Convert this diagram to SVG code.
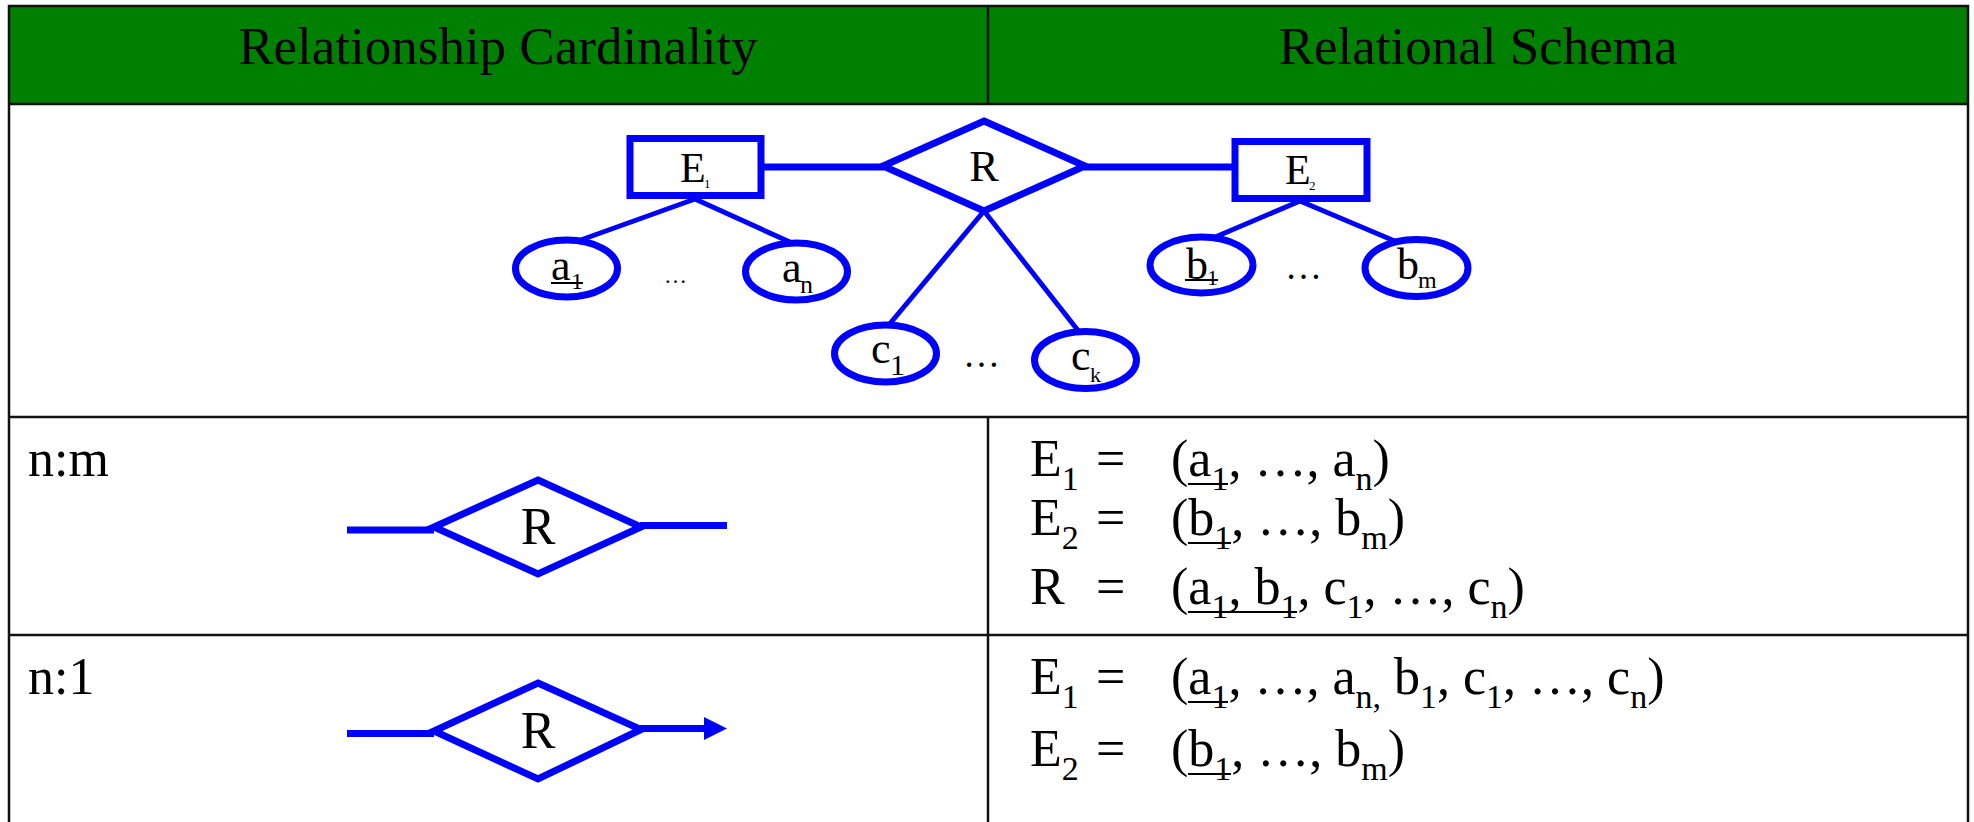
<svg xmlns="http://www.w3.org/2000/svg" width="1974" height="822" viewBox="0 0 1974 822">
<style>
.t{font-family:"Liberation Serif","Times New Roman",serif;fill:#000}
.hd{font-size:53px}
.big{font-size:52px}
.er{font-size:44px}
.tbl{stroke:#111;stroke-width:2.5;fill:none}
.shape{stroke:#0000ff;stroke-width:7;fill:#fff}
.attr{stroke:#0000ff;stroke-width:7;fill:#fff}
.lk{stroke:#0000ff;stroke-width:7;fill:none}
.lk2{stroke:#0000ff;stroke-width:5;fill:none}
.ul{stroke:#000;stroke-width:2}
</style>
<rect x="0" y="0" width="1974" height="822" fill="#fff"/>
<rect x="9" y="6" width="1959" height="98" fill="#008000"/>

<g id="header">
<text class="t hd" x="498" y="64" text-anchor="middle">Relationship Cardinality</text>
<text class="t hd" x="1478" y="64" text-anchor="middle">Relational Schema</text>
</g>

<g id="connectors">
<line class="lk" x1="761" y1="167" x2="884" y2="167"/>
<line class="lk" x1="1084" y1="167" x2="1235" y2="167"/>
<line class="lk2" x1="695" y1="199" x2="578" y2="241"/>
<line class="lk2" x1="695" y1="199" x2="792" y2="243"/>
<line class="lk2" x1="1300" y1="201" x2="1213" y2="238"/>
<line class="lk2" x1="1300" y1="201" x2="1397" y2="242"/>
<line class="lk2" x1="984" y1="211" x2="888" y2="326"/>
<line class="lk2" x1="984" y1="211" x2="1080" y2="333"/>
<line class="lk" x1="347" y1="530" x2="434" y2="530"/>
<line class="lk" x1="640" y1="525.5" x2="727" y2="525.5"/>
<line class="lk" x1="347" y1="733.5" x2="434" y2="733.5"/>
<line class="lk" x1="640" y1="728.5" x2="706" y2="728.5"/>
<polygon points="704,717 727,728.5 704,740" fill="#0000ff"/>
</g>

<g id="E1">
<rect class="shape" x="630" y="138.5" width="131" height="57"/>
<text class="t" font-size="42" x="680" y="182">E</text>
<text class="t" font-size="13" x="704" y="188">1</text>
</g>
<g id="E2">
<rect class="shape" x="1235" y="141.5" width="132" height="57"/>
<text class="t" font-size="42" x="1285" y="184">E</text>
<text class="t" font-size="13" x="1309" y="190">2</text>
</g>
<g id="R">
<polygon class="shape" stroke-width="8" points="984,121 1085,166 984,211 883,166"/>
<text class="t er" x="984" y="181" text-anchor="middle">R</text>
</g>
<g id="a1">
<ellipse class="attr" cx="566.5" cy="268.5" rx="51" ry="28.5"/>
<text class="t er" x="551" y="280">a</text>
<text class="t" font-size="24" x="571" y="289">1</text>
<line class="ul" x1="551" y1="283" x2="583" y2="283"/>
</g>
<g id="an">
<ellipse class="attr" cx="796.5" cy="271.5" rx="51" ry="28.5"/>
<text class="t er" x="782" y="282">a</text>
<text class="t" font-size="26" x="800" y="293">n</text>
</g>
<text class="t" font-size="23" x="664" y="283">…</text>
<g id="b1">
<ellipse class="attr" cx="1201.5" cy="265" rx="51.5" ry="28"/>
<text class="t er" x="1186" y="279">b</text>
<text class="t" font-size="22" x="1207" y="285">1</text>
<line class="ul" x1="1185" y1="280" x2="1218" y2="280"/>
</g>
<g id="bm">
<ellipse class="attr" cx="1416.5" cy="268" rx="51.5" ry="28.5"/>
<text class="t er" x="1397" y="279">b</text>
<text class="t" font-size="24" x="1418" y="288">m</text>
</g>
<text class="t" font-size="37" x="1285" y="279">…</text>
<g id="c1">
<ellipse class="attr" cx="885.5" cy="353.5" rx="51" ry="28.5"/>
<text class="t er" x="871" y="363">c</text>
<text class="t" font-size="30" x="890" y="375">1</text>
</g>
<g id="ck">
<ellipse class="attr" cx="1085.5" cy="360" rx="51" ry="28.5"/>
<text class="t er" x="1071" y="370">c</text>
<text class="t" font-size="22" x="1090" y="382">k</text>
</g>
<text class="t" font-size="37" x="963" y="367">…</text>

<g id="row-nm">
<text class="t big" x="28" y="476">n:m</text>
<polygon class="shape" points="538,480 641,527 538,574 434,527"/>
<text class="t big" x="538" y="544" text-anchor="middle">R</text>
<text class="t big" x="1030" y="476">E<tspan font-size="34" dy="14">1</tspan><tspan x="1096" dy="-14">=</tspan><tspan x="1171">(a</tspan><tspan font-size="34" dy="14">1</tspan><tspan dy="-14">, …, a</tspan><tspan font-size="34" dy="14">n</tspan><tspan dy="-14">)</tspan></text>
<line class="ul" x1="1188" y1="484" x2="1228" y2="484"/>
<text class="t big" x="1030" y="535">E<tspan font-size="34" dy="14">2</tspan><tspan x="1096" dy="-14">=</tspan><tspan x="1171">(b</tspan><tspan font-size="34" dy="14">1</tspan><tspan dy="-14">, …, b</tspan><tspan font-size="34" dy="14">m</tspan><tspan dy="-14">)</tspan></text>
<line class="ul" x1="1188" y1="543" x2="1231" y2="543"/>
<text class="t big" x="1030" y="604">R<tspan x="1096">=</tspan><tspan x="1171">(a</tspan><tspan font-size="34" dy="14">1</tspan><tspan dy="-14">, b</tspan><tspan font-size="34" dy="14">1</tspan><tspan dy="-14">, c</tspan><tspan font-size="34" dy="14">1</tspan><tspan dy="-14">, …, c</tspan><tspan font-size="34" dy="14">n</tspan><tspan dy="-14">)</tspan></text>
<line class="ul" x1="1188" y1="612" x2="1297" y2="612"/>
</g>

<g id="row-n1">
<text class="t big" x="28" y="694">n:1</text>
<polygon class="shape" points="538,683 641,729.5 538,779 434,731"/>
<text class="t big" x="538" y="748" text-anchor="middle">R</text>
<text class="t big" x="1030" y="694">E<tspan font-size="34" dy="14">1</tspan><tspan x="1096" dy="-14">=</tspan><tspan x="1171">(a</tspan><tspan font-size="34" dy="14">1</tspan><tspan dy="-14">, …, a</tspan><tspan font-size="34" dy="14">n,</tspan><tspan dy="-14"> b</tspan><tspan font-size="34" dy="14">1</tspan><tspan dy="-14">, c</tspan><tspan font-size="34" dy="14">1</tspan><tspan dy="-14">, …, c</tspan><tspan font-size="34" dy="14">n</tspan><tspan dy="-14">)</tspan></text>
<line class="ul" x1="1188" y1="702" x2="1228" y2="702"/>
<text class="t big" x="1030" y="766">E<tspan font-size="34" dy="14">2</tspan><tspan x="1096" dy="-14">=</tspan><tspan x="1171">(b</tspan><tspan font-size="34" dy="14">1</tspan><tspan dy="-14">, …, b</tspan><tspan font-size="34" dy="14">m</tspan><tspan dy="-14">)</tspan></text>
<line class="ul" x1="1188" y1="774" x2="1231" y2="774"/>
</g>

<g id="table">
<rect class="tbl" x="9" y="6" width="1959" height="830"/>
<line class="tbl" x1="9" y1="104" x2="1968" y2="104"/>
<line class="tbl" x1="9" y1="417" x2="1968" y2="417"/>
<line class="tbl" x1="9" y1="635" x2="1968" y2="635"/>
<line class="tbl" x1="988" y1="6" x2="988" y2="104"/>
<line class="tbl" x1="988" y1="417" x2="988" y2="822"/>
</g>
</svg>
